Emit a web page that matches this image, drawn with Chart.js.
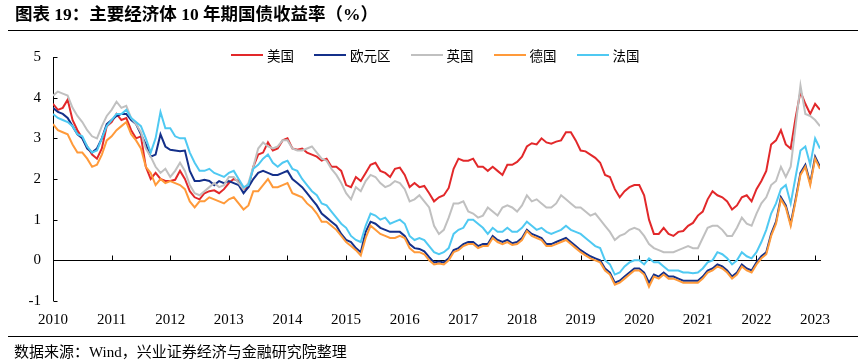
<!DOCTYPE html>
<html><head><meta charset="utf-8">
<script src="https://cdn.jsdelivr.net/npm/chart.js@4.4.0/dist/chart.umd.min.js"></script>
<style>
html,body{margin:0;padding:0;background:#fff;}
body{width:867px;height:364px;position:relative;overflow:hidden;font-family:"Liberation Serif","Noto Sans CJK SC",serif;}
#title{position:absolute;left:15px;top:3px;font-size:17.5px;font-weight:bold;color:#000;white-space:nowrap;line-height:22px;}
.rule{position:absolute;left:8px;width:850px;height:0;border-top:1px solid #000;}
#src{position:absolute;left:14px;top:343px;font-size:15px;line-height:18px;white-space:nowrap;color:#000;}
#legend{position:absolute;left:231px;top:46px;display:flex;align-items:center;height:18px;font-family:"Noto Sans CJK SC",sans-serif;font-size:13.5px;color:#000;}
.item{display:flex;align-items:center;margin-right:20px;}
.swatch{width:32px;height:2px;margin-right:4px;}
canvas{position:absolute;left:0;top:0;}
</style></head>
<body>
<canvas id="c" width="867" height="364" style="width:867px;height:364px"></canvas>
<div id="title">图表 19：主要经济体 10 年期国债收益率（%）</div>
<div class="rule" style="top:30px"></div>
<div id="legend"></div>
<div class="rule" style="top:336px"></div>
<div id="src">数据来源：Wind，兴业证券经济与金融研究院整理</div>
<script>
// ---- data (monthly, Jan 2010 .. Feb 2023) ----
const startYear = 2010;
const seriesNames = ['美国', '欧元区', '英国', '德国', '法国'];
const yearTicks = [2010, 2011, 2012, 2013, 2014, 2015, 2016, 2017, 2018, 2019, 2020, 2021, 2022, 2023];
const yTicks = [-1, 0, 1, 2, 3, 4, 5];

const us = [
 3.85,3.7,3.75,3.95,3.45,3.2,3.0,2.8,2.6,2.5,2.75,3.3,
 3.4,3.6,3.45,3.5,3.2,3.0,3.05,2.3,2.0,2.15,2.0,1.95,
 1.95,1.98,2.2,2.0,1.7,1.55,1.5,1.65,1.7,1.72,1.65,1.75,
 1.9,2.0,1.95,1.75,1.8,2.3,2.6,2.65,2.9,2.7,2.75,2.95,
 3.0,2.75,2.72,2.75,2.65,2.6,2.55,2.45,2.5,2.3,2.3,2.2,
 1.85,1.8,2.05,1.95,2.15,2.35,2.4,2.2,2.15,2.05,2.25,2.28,
 2.1,1.8,1.9,1.8,1.83,1.65,1.45,1.55,1.6,1.78,2.25,2.5,
 2.45,2.45,2.5,2.3,2.3,2.2,2.3,2.2,2.1,2.35,2.35,2.42,
 2.55,2.8,2.88,2.85,3.0,2.9,2.87,2.92,2.95,3.15,3.15,2.95,
 2.7,2.68,2.6,2.52,2.4,2.1,2.05,1.75,1.55,1.7,1.8,1.85,
 1.85,1.6,1.0,0.65,0.65,0.8,0.65,0.6,0.7,0.72,0.85,0.92,
 1.1,1.2,1.5,1.7,1.6,1.55,1.45,1.25,1.35,1.55,1.6,1.45,
 1.75,1.95,2.2,2.85,2.95,3.2,2.85,2.75,3.5,4.15,3.85,3.6,
 3.85,3.7
];
const euroArea = [
 3.75,3.65,3.6,3.5,3.3,3.1,3.0,2.75,2.65,2.75,3.0,3.35,
 3.45,3.55,3.6,3.6,3.45,3.35,3.1,2.85,2.55,2.6,3.1,2.8,
 2.72,2.7,2.68,2.7,2.2,1.95,1.95,1.98,1.95,1.85,1.95,1.9,
 1.95,1.9,1.85,1.65,1.8,2.0,2.15,2.2,2.15,2.1,2.1,2.15,
 2.2,2.0,1.9,1.8,1.65,1.5,1.35,1.15,1.05,0.95,0.85,0.65,
 0.5,0.45,0.3,0.2,0.7,0.95,0.9,0.8,0.75,0.7,0.7,0.7,
 0.6,0.4,0.3,0.28,0.22,0.08,-0.05,-0.03,-0.05,0.05,0.25,0.3,
 0.4,0.45,0.45,0.35,0.4,0.4,0.6,0.5,0.45,0.5,0.42,0.45,
 0.55,0.75,0.65,0.6,0.55,0.4,0.4,0.45,0.5,0.55,0.45,0.35,
 0.25,0.17,0.1,0.05,0.0,-0.2,-0.3,-0.55,-0.5,-0.4,-0.3,-0.2,
 -0.2,-0.3,-0.55,-0.35,-0.4,-0.3,-0.4,-0.4,-0.45,-0.5,-0.5,-0.5,
 -0.5,-0.4,-0.25,-0.2,-0.1,-0.15,-0.25,-0.4,-0.3,-0.1,-0.2,-0.25,
 -0.05,0.1,0.2,0.65,0.95,1.55,1.35,0.9,1.5,2.15,2.35,1.9,
 2.55,2.3
];
const uk = [
 4.05,4.15,4.1,4.05,3.75,3.55,3.4,3.2,3.05,3.0,3.3,3.55,
 3.7,3.9,3.75,3.8,3.5,3.35,3.15,2.75,2.55,2.3,2.15,2.25,
 2.05,2.2,2.4,2.2,1.85,1.65,1.6,1.7,1.8,1.9,1.8,1.85,
 2.05,2.05,1.9,1.75,1.9,2.3,2.75,2.9,2.8,2.75,2.8,2.95,
 2.95,2.75,2.7,2.7,2.75,2.8,2.65,2.5,2.45,2.25,2.1,1.9,
 1.65,1.5,1.8,1.7,1.95,2.1,2.05,1.9,1.8,1.85,1.95,1.9,
 1.75,1.45,1.5,1.6,1.45,1.3,0.85,0.65,0.75,1.05,1.4,1.4,
 1.45,1.2,1.15,1.05,1.1,1.3,1.2,1.1,1.3,1.35,1.3,1.2,
 1.35,1.6,1.45,1.5,1.4,1.3,1.3,1.4,1.6,1.5,1.4,1.3,
 1.3,1.2,1.1,1.15,1.0,0.85,0.7,0.5,0.6,0.65,0.75,0.8,
 0.75,0.6,0.4,0.3,0.25,0.2,0.2,0.2,0.25,0.3,0.35,0.3,
 0.3,0.55,0.8,0.85,0.85,0.75,0.6,0.6,0.8,1.05,0.9,0.85,
 1.15,1.4,1.55,1.85,1.95,2.3,2.05,2.3,3.3,4.3,3.6,3.55,
 3.45,3.3
];
const germany = [
 3.35,3.2,3.15,3.1,2.85,2.65,2.65,2.5,2.3,2.35,2.6,2.95,
 3.05,3.2,3.3,3.4,3.1,2.95,2.75,2.3,2.15,1.85,2.0,1.9,
 1.95,1.9,1.85,1.75,1.45,1.3,1.45,1.45,1.55,1.5,1.45,1.4,
 1.5,1.55,1.4,1.25,1.35,1.7,1.7,1.85,2.0,1.8,1.8,1.85,
 1.9,1.65,1.6,1.55,1.4,1.3,1.15,0.95,0.95,0.85,0.75,0.6,
 0.45,0.35,0.25,0.12,0.55,0.85,0.75,0.65,0.6,0.55,0.55,0.6,
 0.55,0.3,0.2,0.2,0.15,0.0,-0.1,-0.08,-0.1,0.0,0.2,0.25,
 0.35,0.4,0.4,0.3,0.35,0.35,0.55,0.45,0.4,0.45,0.38,0.4,
 0.5,0.72,0.6,0.55,0.5,0.35,0.35,0.4,0.45,0.5,0.4,0.3,
 0.2,0.12,0.05,0.0,-0.05,-0.25,-0.35,-0.6,-0.55,-0.45,-0.35,-0.25,
 -0.25,-0.35,-0.65,-0.4,-0.45,-0.35,-0.45,-0.45,-0.5,-0.55,-0.55,-0.55,
 -0.55,-0.45,-0.3,-0.25,-0.15,-0.2,-0.3,-0.45,-0.35,-0.15,-0.25,-0.3,
 -0.1,0.05,0.15,0.6,0.9,1.5,1.3,0.85,1.45,2.1,2.3,1.85,
 2.5,2.25
];
const france = [
 3.6,3.5,3.45,3.4,3.3,3.1,3.05,2.8,2.65,2.7,3.0,3.3,
 3.45,3.6,3.6,3.7,3.5,3.4,3.3,3.0,2.65,3.0,3.65,3.25,
 3.25,3.05,3.0,3.0,2.65,2.4,2.2,2.2,2.25,2.15,2.1,2.05,
 2.15,2.2,2.0,1.8,1.85,2.25,2.35,2.5,2.6,2.4,2.3,2.4,
 2.45,2.25,2.2,2.0,1.85,1.7,1.6,1.4,1.35,1.2,1.05,0.9,
 0.8,0.6,0.5,0.45,0.85,1.15,1.1,1.0,1.05,0.9,0.95,1.0,
 0.9,0.6,0.5,0.55,0.5,0.35,0.2,0.15,0.2,0.3,0.65,0.75,
 0.8,1.0,1.0,0.9,0.8,0.65,0.8,0.7,0.7,0.8,0.7,0.7,
 0.8,0.95,0.85,0.75,0.8,0.7,0.65,0.7,0.75,0.85,0.75,0.7,
 0.65,0.55,0.45,0.35,0.3,0.0,-0.1,-0.35,-0.3,-0.15,-0.05,0.0,
 0.0,-0.1,0.05,-0.05,-0.05,-0.15,-0.25,-0.25,-0.25,-0.3,-0.3,-0.32,
 -0.3,-0.2,-0.05,0.0,0.2,0.15,0.05,-0.1,0.0,0.2,0.1,0.05,
 0.2,0.45,0.75,1.15,1.4,1.75,1.85,1.4,2.05,2.7,2.8,2.35,
 3.0,2.75
];
const seriesValues = [us, euroArea, uk, germany, france];

// ---- styles ----
const seriesColors = ['#E2282A', '#14308A', '#C0C0C0', '#FF9A3A', '#4FC9F2'];
const drawOrder = [5, 4, 3, 2, 1];

// legend (HTML)
const legendEl = document.getElementById('legend');
seriesNames.forEach((name, k) => {
  const it = document.createElement('div'); it.className = 'item';
  const sw = document.createElement('span'); sw.className = 'swatch'; sw.style.background = seriesColors[k];
  const tx = document.createElement('span'); tx.textContent = name;
  it.appendChild(sw); it.appendChild(tx); legendEl.appendChild(it);
});

const toPoints = arr => arr.map((v, i) => ({ x: startYear + i / 12, y: v }));

const axesPlugin = {
  id: 'axesPlugin',
  beforeDatasetsDraw(chart) {
    const { ctx, chartArea: a, scales: { x, y } } = chart;
    ctx.save();
    ctx.strokeStyle = '#000';
    ctx.lineWidth = 1;
    ctx.beginPath();
    const y0 = Math.round(y.getPixelForValue(0)) + 0.5;
    ctx.moveTo(a.left, y0); ctx.lineTo(a.right + 1, y0);
    x.ticks.forEach(t => {
      const px = Math.round(x.getPixelForValue(t.value)) + 0.5;
      ctx.moveTo(px, y0); ctx.lineTo(px, y0 - 5);
    });
    const xl = Math.round(a.left) + 0.5;
    ctx.moveTo(xl, a.top); ctx.lineTo(xl, a.bottom);
    y.ticks.forEach(t => {
      const py = Math.round(y.getPixelForValue(t.value)) + 0.5;
      ctx.moveTo(xl, py); ctx.lineTo(xl + 4, py);
    });
    ctx.stroke();
    ctx.restore();
  }
};

new Chart(document.getElementById('c'), {
  type: 'line',
  data: {
    datasets: seriesValues.map((vals, k) => ({
      label: seriesNames[k],
      data: toPoints(vals),
      borderColor: seriesColors[k],
      backgroundColor: seriesColors[k],
      borderWidth: 2,
      pointRadius: 0,
      tension: 0,
      fill: false,
      order: drawOrder[k]
    }))
  },
  options: {
    responsive: false,
    animation: false,
    devicePixelRatio: 1,
    layout: { padding: { left: 0, right: 47, top: 57, bottom: 33 } },
    plugins: { legend: { display: false }, tooltip: { enabled: false } },
    scales: {
      x: {
        type: 'linear',
        min: startYear,
        max: startYear + (us.length - 1) / 12,
        grid: { display: false, drawTicks: false },
        border: { display: false },
        afterBuildTicks: s => { s.ticks = yearTicks.map(v => ({ value: v })); },
        afterFit: s => { s.height = 30; },
        ticks: {
          autoSkip: false, maxRotation: 0, padding: 10, color: '#000',
          font: { family: 'Liberation Serif', size: 15 },
          callback: v => String(v)
        }
      },
      y: {
        min: -1, max: 5,
        grid: { display: false, drawTicks: false },
        border: { display: false },
        afterBuildTicks: s => { s.ticks = yTicks.map(v => ({ value: v })); },
        afterFit: s => { s.width = 53; },
        ticks: {
          padding: 12, color: '#000',
          font: { family: 'Liberation Serif', size: 15 },
          callback: v => String(v)
        }
      }
    }
  },
  plugins: [axesPlugin]
});
</script>
</body></html>
